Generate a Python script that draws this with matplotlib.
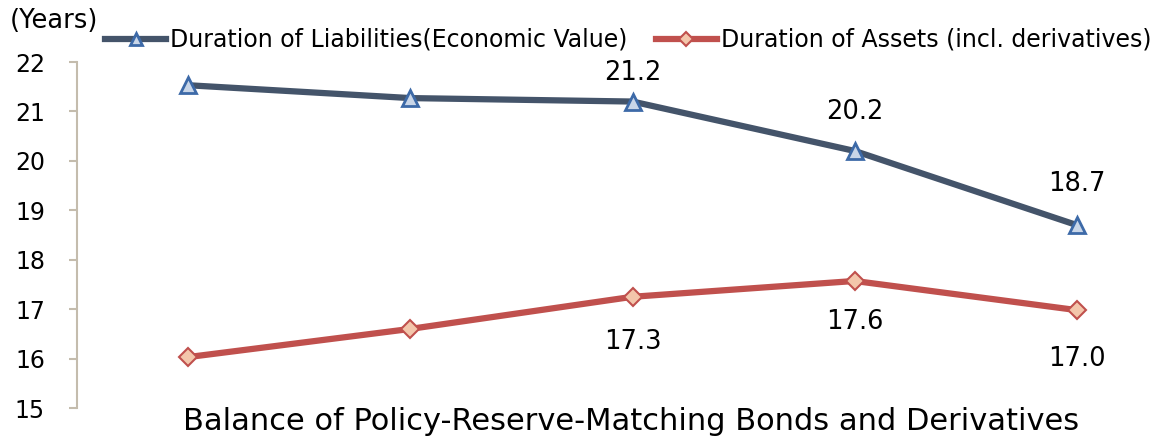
import matplotlib
matplotlib.use("Agg")
import matplotlib.pyplot as plt
from matplotlib.lines import Line2D

categories = ["1", "2", "3", "4", "5"]
liabilities = [21.53, 21.27, 21.2, 20.2, 18.7]
assets = [16.03, 16.6, 17.25, 17.57, 16.98]
liab_labels = [None, None, "21.2", "20.2", "18.7"]
asset_labels = [None, None, "17.3", "17.6", "17.0"]
yticks = [15, 16, 17, 18, 19, 20, 21, 22]

# label distance from the point, pixels
liab_off = [0, 0, 29, 39, 41]
asset_off = [0, 0, 45, 41, 49]

plt.rcParams["font.family"] = ["DejaVu Sans"]

fig = plt.figure(figsize=(11.66, 4.41), dpi=100)
ax = fig.add_axes([77 / 1166, 33 / 441, 1111 / 1166, 346 / 441])

x = list(range(len(categories)))
liab_color = "#44546A"
asset_color = "#C0504D"

ax.plot(x, liabilities, color=liab_color, lw=4.5, marker="^", ms=11,
        mfc="#C9D6E8", mec="#3D6AA8", mew=2, zorder=3)
ax.plot(x, assets, color=asset_color, lw=4.5, marker="D", ms=9,
        mfc="#F3C6AB", mec="#C0504D", mew=1.5, zorder=3)

for xi, v, lab, off in zip(x, liabilities, liab_labels, liab_off):
    if lab:
        ax.annotate(lab, (xi, v), xytext=(0, off), textcoords="offset pixels",
                    ha="center", va="center", fontsize=18.5)
for xi, v, lab, off in zip(x, assets, asset_labels, asset_off):
    if lab:
        ax.annotate(lab, (xi, v), xytext=(0, -off), textcoords="offset pixels",
                    ha="center", va="center", fontsize=18.5)

ax.set_xlim(-0.5, 4.5)
ax.set_ylim(15, 22)
ax.set_yticks(yticks)
ax.set_xticks([])
for s in ["top", "right", "bottom"]:
    ax.spines[s].set_visible(False)
ax.spines["left"].set_color("#C4BCAD")
ax.spines["left"].set_linewidth(1.5)
ax.tick_params(axis="y", direction="out", length=6, width=1.5,
               color="#C4BCAD", labelsize=17, pad=17)

fig.text(10 / 1166, 1 - 21 / 441, "(Years)", fontsize=18.5, va="center", ha="left")
fig.text(631 / 1166, 1 - 422 / 441,
         "Balance of Policy-Reserve-Matching Bonds and Derivatives",
         fontsize=22, ha="center", va="center")

handles = [
    Line2D([], [], color=liab_color, lw=4.5, marker="^", ms=9,
           mfc="#C9D6E8", mec="#3D6AA8", mew=2),
    Line2D([], [], color=asset_color, lw=4.5, marker="D", ms=7,
           mfc="#F3C6AB", mec="#C0504D", mew=1.5),
]
fig.legend(handles, ["Duration of Liabilities(Economic Value)",
                     "Duration of Assets (incl. derivatives)"],
           loc="center", bbox_to_anchor=(628 / 1166, 1 - 40 / 441), ncol=2,
           frameon=False, fontsize=17, handlelength=2.6, handletextpad=0.15,
           columnspacing=1.2, borderaxespad=0)

fig.savefig("out.png", dpi=100)
